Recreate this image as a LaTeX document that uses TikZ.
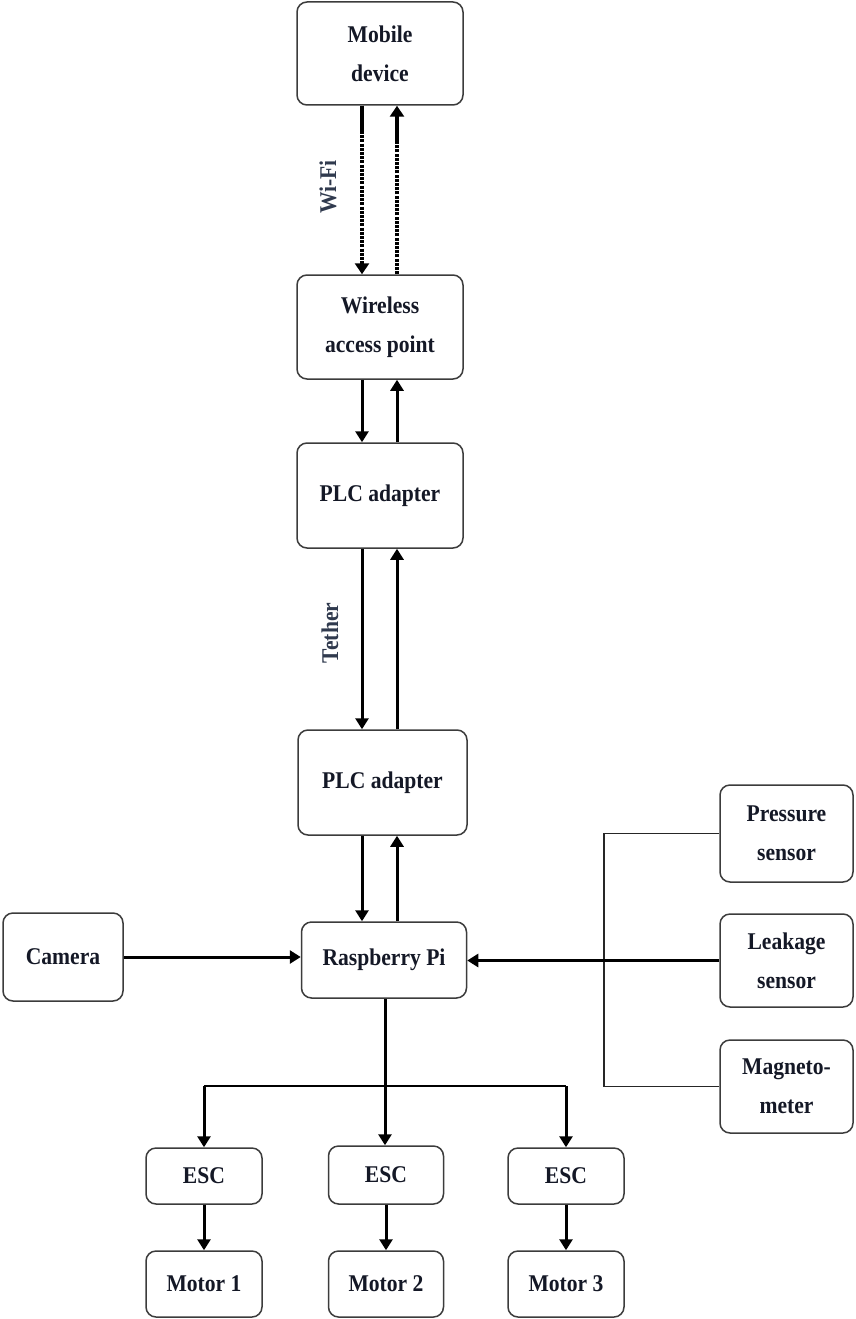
\documentclass[tikz,border=0pt]{standalone}
\usepackage{fontspec}
\newfontfamily\dfont[FakeStretch=0.9]{Liberation Serif}
\usetikzlibrary{arrows.meta}
\definecolor{txt}{RGB}{20,24,38}
\definecolor{lbl}{RGB}{48,58,78}
\definecolor{frame}{RGB}{60,60,60}
\begin{document}
\begin{tikzpicture}[x=1pt,y=-1pt,
  box/.style 2 args={draw=frame,line width=1.5pt,rounded corners=10pt,inner sep=0pt,
    minimum width=#1,minimum height=#2,align=center,text=txt,
    font=\dfont\bfseries\fontsize{24}{39}\selectfont},
  conn/.style={line width=3pt,draw=black},
  arr/.style={conn,-{Triangle[length=11pt,width=13pt]}},
  wline/.style={line width=4.5pt,draw=black},
  warr/.style={wline,dash pattern=on 3pt off 1.2pt,-{Triangle[length=11pt,width=14pt]}},
  thinline/.style={line width=1.6pt,draw=black!85},
  side/.style={rotate=90,text=lbl,font=\dfont\bfseries\fontsize{24}{30}\selectfont,inner sep=0pt}]
\useasboundingbox (0,0) rectangle (855,1319);
\fill[white] (0,0) rectangle (855,1319);
% nodes
\node[box={166pt}{103pt}] (mob) at (380,53.5) {Mobile\\device};
\node[box={166pt}{104pt}] (wap) at (380,327) {Wireless\\access point};
\node[box={166pt}{105pt}] (plc1) at (380,495.5) {PLC adapter};
\node[box={169pt}{105pt}] (plc2) at (382.5,782.5) {PLC adapter};
\node[box={165pt}{76pt}] (rpi) at (384,960) {Raspberry Pi};
\node[box={120pt}{88pt}] (cam) at (63,957) {Camera};
\node[box={133pt}{97pt}] (press) at (786.5,833.5) {Pressure\\sensor};
\node[box={133pt}{93pt}] (leak) at (786.5,960.5) {Leakage\\sensor};
\node[box={133pt}{93pt}] (mag) at (786.5,1086.5) {Magneto-\\meter};
\node[box={116pt}{56pt}] (esc1) at (204,1176) {ESC};
\node[box={115pt}{58pt}] (esc2) at (386,1175) {ESC};
\node[box={116pt}{56pt}] (esc3) at (566,1176) {ESC};
\node[box={116pt}{66pt}] (mot1) at (204,1284) {Motor 1};
\node[box={115pt}{66pt}] (mot2) at (386,1284) {Motor 2};
\node[box={116pt}{66pt}] (mot3) at (566,1284) {Motor 3};
\node[side] (wifi) at (328,187) {Wi-Fi};
\node[side] (tether) at (330,633) {Tether};
% helper coordinates
\coordinate (dn) at (362,0);
\coordinate (up) at (397,0);
\coordinate (bus) at (604,0);
\coordinate (split) at (385,1086);
% Wi-Fi link
\draw[warr] (mob.south -| dn) -- (wap.north -| dn);
\draw[wline] (mob.south -| dn) -- ([yshift=-25pt]mob.south -| dn);
\draw[warr] (wap.north -| up) -- (mob.south -| up);
\draw[wline] ([yshift=-10pt]mob.south -| up) -- ([yshift=-35pt]mob.south -| up);
% wired links
\draw[arr] (wap.south -| dn) -- (plc1.north -| dn);
\draw[arr] (plc1.north -| up) -- (wap.south -| up);
\draw[arr] (plc1.south -| dn) -- (plc2.north -| dn);
\draw[arr] (plc2.north -| up) -- (plc1.south -| up);
\draw[arr] (plc2.south -| dn) -- (rpi.north -| dn);
\draw[arr] (rpi.north -| up) -- (plc2.south -| up);
% camera
\draw[arr] (cam.east) -- (cam.east -| rpi.west);
% sensors
\draw[thinline] (press.west) -- (press.west -| bus) -- (mag.west -| bus) -- (mag.west);
\draw[arr,line width=2.6pt] (leak.west) -- (leak.west -| rpi.east);
% motors
\draw[conn] (rpi.south -| split) -- (split);
\draw[conn,line width=2.6pt] (esc1.north |- split) -- (esc3.north |- split);
\draw[arr] (esc1.north |- split) -- (esc1.north);
\draw[arr] (split) -- (esc2.north -| split);
\draw[arr] (esc3.north |- split) -- (esc3.north);
\draw[arr] (esc1.south) -- (mot1.north);
\draw[arr] (esc2.south) -- (mot2.north);
\draw[arr] (esc3.south) -- (mot3.north);
\end{tikzpicture}
\end{document}
